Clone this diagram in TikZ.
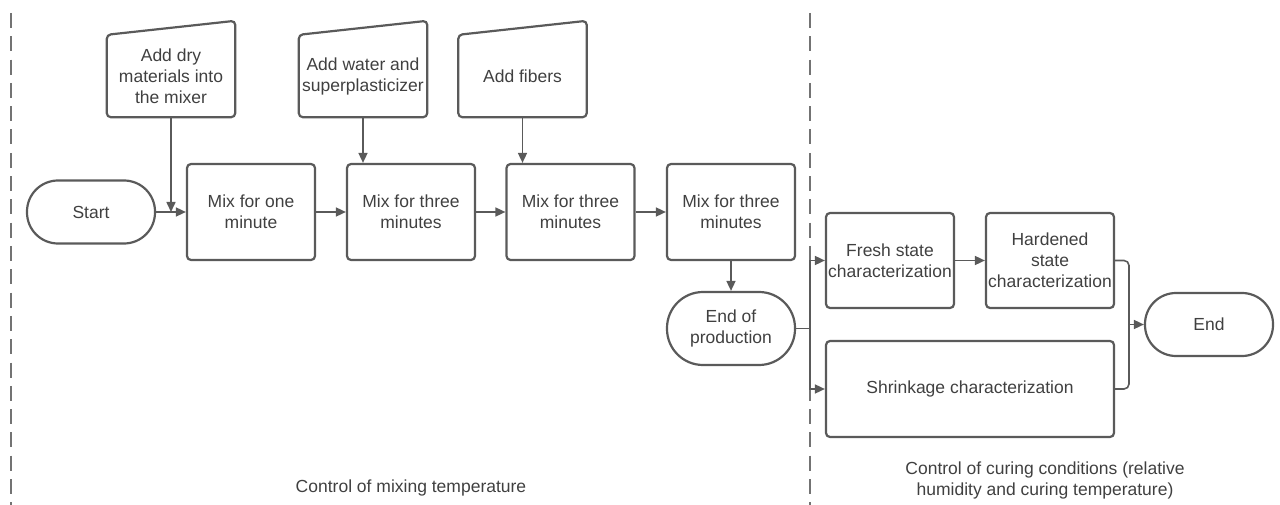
\documentclass[tikz,border=0pt]{standalone}
\usepackage{fontspec}
\setmainfont{Liberation Sans}
\usetikzlibrary{arrows.meta,calc}
\definecolor{lineg}{HTML}{5A5A5A}
\definecolor{txtg}{HTML}{404040}
\begin{document}
\begin{tikzpicture}[x=1pt,y=-1pt,
  every node/.style={text=txtg,font=\fontsize{17.5pt}{21pt}\selectfont,align=center,inner sep=0pt},
  procbox/.style={draw=lineg,line width=2.2pt,rounded corners=4pt,minimum width=128pt,minimum height=96pt},
  termbox/.style={draw=lineg,line width=2.2pt,rounded corners=31pt,minimum width=128pt,minimum height=63pt},
  inbox/.style={minimum width=128pt,minimum height=82pt},
  conn/.style={draw=lineg,line width=1.6pt,-{Triangle[length=10pt,width=9pt]}},
  plain/.style={draw=lineg,line width=1.6pt},
  sep/.style={draw=lineg!85,line width=1.5pt,dash pattern=on 15pt off 8.3pt}
]
\useasboundingbox (0,0) rectangle (1280,505);
% separators
\draw[sep] (11,13) -- (11,505);
\draw[sep] (810,13) -- (810,505);
% manual inputs
\node[inbox] (dry) at (171,76) {Add dry\\materials into\\the mixer};
\node[inbox] (water) at (363,76) {Add water and\\superplasticizer};
\node[inbox] (fib) at (522.5,76) {Add fibers};
\foreach \n in {dry,water,fib}{
  \draw[draw=lineg,line width=2.2pt,rounded corners=4pt]
    (\n.south west) -- (\n.south east) -- ($(\n.north east)+(0,-14)$) -- (\n.north west) -- cycle;
}
% main row
\node[termbox] (start) at (91,212) {Start};
\node[procbox] (m1) at (251,212) {Mix for one\\minute};
\node[procbox] (m2) at (411,212) {Mix for three\\minutes};
\node[procbox] (m3) at (570.5,212) {Mix for three\\minutes};
\node[procbox] (m4) at (731,212) {Mix for three\\minutes};
\node[termbox,minimum height=73pt,rounded corners=36pt] (eop) at (731,328.5) {End of\\production};
% right part
\node[procbox,minimum height=95pt] (fresh) at (890,260.5) {Fresh state\\characterization};
\node[procbox,minimum height=95pt] (hard) at (1050,260.5) {Hardened\\state\\characterization};
\node[procbox,minimum width=288pt] (shr) at (970,389) {Shrinkage characterization};
\node[termbox] (endn) at (1209,324.5) {End};
% connectors
\draw[conn] (start.east) -- (m1.west);
\draw[conn] (dry.south) -- (dry.south |- start.east);
\draw[conn] (water.south) -- (water.south |- m2.north);
\draw[conn] (fib.south) -- (fib.south |- m3.north);
\draw[conn] (m1.east) -- (m2.west);
\draw[conn] (m2.east) -- (m3.west);
\draw[conn] (m3.east) -- (m4.west);
\draw[conn] (m4.south) -- (eop.north);
\coordinate (split) at (810,328.5);
\draw[plain] (eop.east) -- (split);
\draw[conn] (split) |- (fresh.west);
\draw[conn] (split) |- (shr.west);
\draw[conn] (fresh.east) -- (hard.west);
\coordinate (merge) at (1129,324.5);
\draw[plain,rounded corners=5pt] (hard.east) -| (merge) |- (shr.east);
\draw[conn] (merge) -- (endn.west);
% labels
\node (lab1) at (411,488) {Control of mixing temperature};
\node (lab2) at (1045,480) {Control of curing conditions (relative\\humidity and curing temperature)};
\end{tikzpicture}
\end{document}
